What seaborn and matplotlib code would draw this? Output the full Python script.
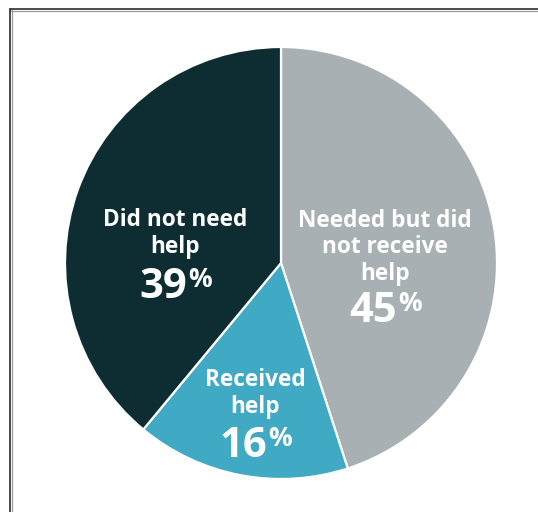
import matplotlib
matplotlib.use("Agg")
import matplotlib.pyplot as plt
from matplotlib.lines import Line2D
import seaborn as sns

# Survey responses on receiving help (percent of respondents)
categories = ["Needed but did\nnot receive\nhelp", "Received\nhelp", "Did not need\nhelp"]
shares = [45, 16, 39]
colors = ["#a8b0b3", "#40a9c4", "#0d2d33"]

# label anchor points (pie data coordinates, radius = 1); baseline of last line
label_xy = [(0.48, -0.079), (-0.12, -0.694), (-0.49, 0.046)]
pct_xy = [(0.48, -0.273), (-0.12, -0.898), (-0.49, -0.162)]

sns.set_theme(style="white")
plt.rcParams["font.family"] = ["Open Sans", "DejaVu Sans"]

DPI = 100
fig = plt.figure(figsize=(538 / DPI, 512 / DPI), dpi=DPI)
fig.patch.set_facecolor("white")
ax = fig.add_axes([65 / 538, 33 / 512, 432 / 538, 432 / 512])

ax.pie(
    shares,
    colors=colors,
    startangle=90,
    counterclock=False,
    radius=1,
    wedgeprops=dict(edgecolor="white", linewidth=1.6),
)
ax.set_xlim(-1, 1)
ax.set_ylim(-1, 1)
ax.set_aspect("equal")
ax.axis("off")

for text, (x, y) in zip(categories, label_xy):
    ax.text(x, y, text, ha="center", va="baseline", color="white",
            fontsize=16.3, fontweight="bold", linespacing=1.15)

for val, (x, y) in zip(shares, pct_xy):
    ax.annotate(f"{val}", xy=(x, y), xytext=(8.5, 0), textcoords="offset points",
                ha="right", va="baseline", color="white",
                fontsize=30, fontweight="bold")
    ax.annotate("%", xy=(x, y), xytext=(9.5, 8), textcoords="offset points",
                ha="left", va="baseline", color="white",
                fontsize=19, fontweight="bold")

# page frame (top and left rules with a soft shadow)
W, H = 538, 512
fig.add_artist(Line2D([10 / W, 1], [1 - 10.5 / H, 1 - 10.5 / H],
                      transform=fig.transFigure, color="#9a9a9a", lw=0.9))
fig.add_artist(Line2D([11.5 / W, 11.5 / W], [0, 1 - 9.5 / H],
                      transform=fig.transFigure, color="#9a9a9a", lw=0.9))
fig.add_artist(Line2D([10 / W, 1], [1 - 9.3 / H, 1 - 9.3 / H],
                      transform=fig.transFigure, color="#1a1a1a", lw=1.1))
fig.add_artist(Line2D([10.3 / W, 10.3 / W], [0, 1 - 9.3 / H],
                      transform=fig.transFigure, color="#1a1a1a", lw=1.1))

fig.savefig("out.png", dpi=DPI, facecolor="white")
